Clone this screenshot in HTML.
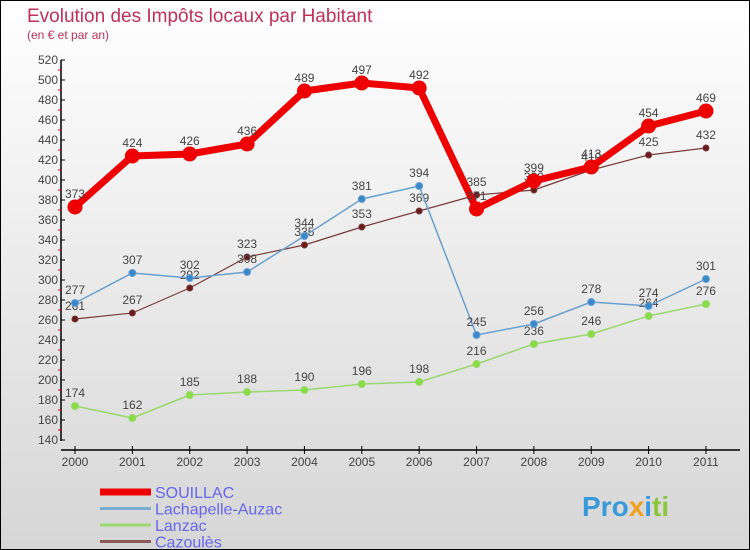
<!DOCTYPE html>
<html><head><meta charset="utf-8"><style>
body{margin:0}
#wrap{width:750px;height:550px;position:relative;overflow:hidden}
svg{display:block;font-family:"Liberation Sans",sans-serif}
</style></head><body>
<div id="wrap">
<svg id="chart" width="750" height="550">
<defs><linearGradient id="bg" x1="0" y1="0" x2="0" y2="1"><stop offset="0" stop-color="#ffffff"/><stop offset="1" stop-color="#d6d6d6"/></linearGradient></defs>
<rect x="0.5" y="0.5" width="749" height="549" fill="url(#bg)" stroke="#000"/>
<text x="27" y="22" font-size="19" fill="#c0305a">Evolution des Impôts locaux par Habitant</text>
<text x="27" y="39" font-size="12" fill="#c0305a">(en € et par an)</text>
<g id="axes"></g><g id="series"></g><g id="legend"></g>
<text x="582" y="516" font-size="28" font-weight="bold" fill="#3a9ad9">Pro<tspan fill="#f0a020">x</tspan><tspan fill="#3a9ad9">i</tspan><tspan fill="#8cc63f">ti</tspan></text>
</svg></div>
<script>
const years=["2000","2001","2002","2003","2004","2005","2006","2007","2008","2009","2010","2011"];
const yTicks=[140,160,180,200,220,240,260,280,300,320,340,360,380,400,420,440,460,480,500,520];
const souillac=[373,424,426,436,489,497,492,371,399,413,454,469];
const lachapelle=[277,307,302,308,344,381,394,245,256,278,274,301];
const lanzac=[174,162,185,188,190,196,198,216,236,246,264,276];
const cazoules=[261,267,292,323,335,353,369,385,390,410,425,432];
const NS="http://www.w3.org/2000/svg";
function X(i){return 75+i*57.36;}
function Y(v){return 60+(520-v);}
function mk(tag,attrs,parent,txt){const e=document.createElementNS(NS,tag);for(const k in attrs)e.setAttribute(k,attrs[k]);if(txt!==undefined)e.textContent=txt;parent.appendChild(e);return e;}
const ax=document.getElementById('axes');
let e=mk('line',{x1:61,y1:60,x2:61,y2:441,stroke:'#000','stroke-width':1.5},ax);

e=mk('line',{x1:61,y1:450,x2:740,y2:450,stroke:'#000','stroke-width':1.5},ax);

yTicks.forEach((v,i)=>{
 mk('line',{x1:61,y1:Y(v),x2:65,y2:Y(v),stroke:'#000'},ax);
 if(i<yTicks.length-1)mk('line',{x1:58,y1:Y(v)-10,x2:61,y2:Y(v)-10,stroke:'#e00'},ax);
 const t=mk('text',{x:58,y:Y(v)+4,'font-size':12,fill:'#444','text-anchor':'end'},ax,String(v));
 
});
years.forEach((y,i)=>{
 mk('line',{x1:X(i),y1:446,x2:X(i),y2:454,stroke:'#000'},ax);
 const t=mk('text',{x:X(i),y:466,'font-size':12,fill:'#444','text-anchor':'middle'},ax,y);
 
});
const sg=document.getElementById('series');
function draw(name,data,color,w,r,dot){
 const g=mk('g',{},sg);
 
 const p=mk('polyline',{points:data.map((v,i)=>X(i)+','+Y(v)).join(' '),fill:'none',stroke:color,'stroke-width':w,'stroke-linejoin':'round'},g);
 
 data.forEach((v,i)=>{
  const c=mk('circle',{cx:X(i),cy:Y(v),r:r,fill:dot,stroke:color,'stroke-width':1},g);
  
  const t=mk('text',{x:X(i),y:Y(v)-9,'font-size':12,fill:'#444','text-anchor':'middle'},g,String(v));
  
 });
}
draw('cazoules',cazoules,'#7a3a3a',1.2,3,'#6a1a1a');
draw('lanzac',lanzac,'#9ad870',1.5,3.5,'#88dd44');
draw('lachapelle',lachapelle,'#6aa0d0',1.5,3.5,'#3a88cc');
draw('souillac',souillac,'#ee0000',7,7,'#ee0000');
const lg=document.getElementById('legend');
const items=[['SOUILLAC','#ee0000',7],['Lachapelle-Auzac','#7aaed0',3],['Lanzac','#9ad870',3],['Cazoulès','#8a5a5a',3]];
items.forEach((it,i)=>{
 const y=492+i*16.5;
 const g=mk('g',{},lg);
 
 mk('line',{x1:100,y1:y,x2:151,y2:y,stroke:it[1],'stroke-width':it[2]},g);
 mk('text',{x:155,y:y+6,'font-size':16,fill:'#6666ee'},g,it[0]);
});
</script>
</body></html>
